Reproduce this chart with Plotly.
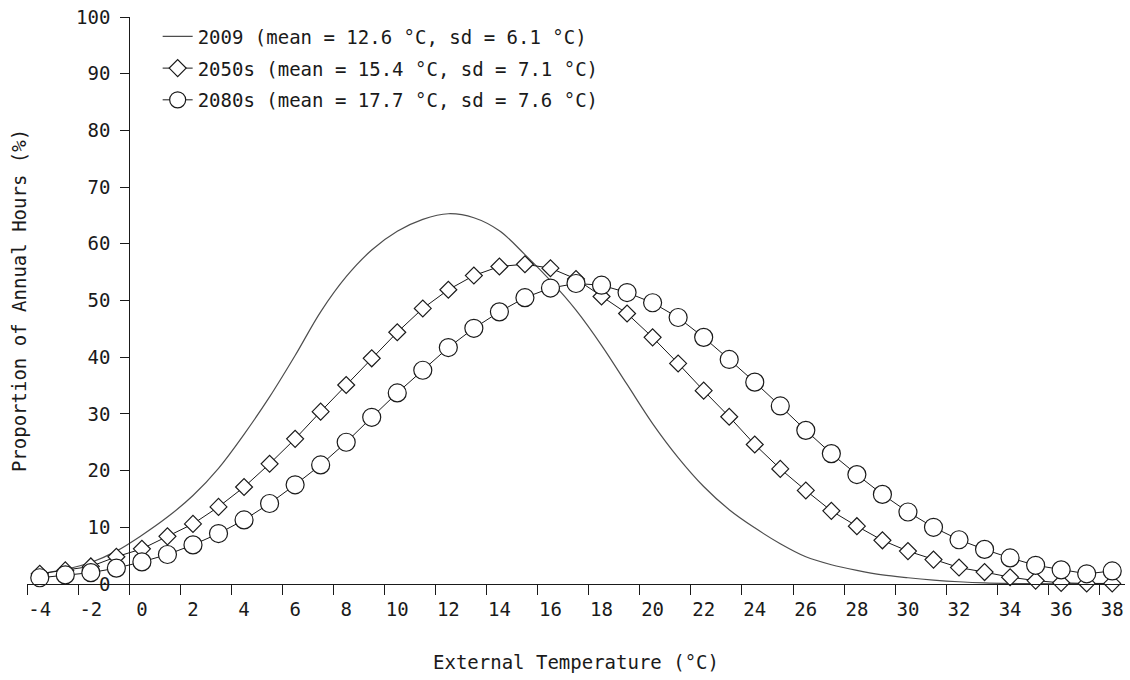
import plotly.graph_objects as go

# Outdoor temperature bins (°C)
temps = list(range(-4, 39))

# Share of annual hours per temperature bin (%)
hours_2009 = [1.8, 2.6, 3.8, 5.8, 8.6, 11.8, 15.6, 20.4, 26.4, 33.0, 40.3, 48.0, 54.2,
              58.9, 62.2, 64.3, 65.3, 64.6, 62.3, 58.1, 53.5, 48.3, 42.1, 35.2, 28.3,
              22.3, 17.2, 13.1, 9.9, 7.1, 4.8, 3.4, 2.4, 1.6, 1.1, 0.7, 0.4, 0.2, 0.1,
              0.05, 0.02, 0.0, 0.0]
hours_2050s = [1.8, 2.4, 3.1, 4.8, 6.2, 8.4, 10.6, 13.6, 17.1, 21.2, 25.6, 30.4, 35.1,
               39.8, 44.4, 48.6, 51.9, 54.4, 56.0, 56.4, 55.7, 53.8, 50.7, 47.7, 43.5,
               38.9, 34.1, 29.5, 24.6, 20.3, 16.5, 12.9, 10.2, 7.7, 5.8, 4.3, 2.9, 2.1,
               1.2, 0.6, 0.2, 0.1, 0.1]
hours_2080s = [1.1, 1.6, 2.0, 2.8, 3.9, 5.2, 6.9, 8.9, 11.3, 14.2, 17.5, 21.0, 25.0,
               29.4, 33.7, 37.7, 41.7, 45.1, 48.0, 50.5, 52.2, 53.0, 52.7, 51.4, 49.6,
               47.0, 43.5, 39.6, 35.6, 31.4, 27.1, 23.0, 19.3, 15.8, 12.7, 10.0, 7.8,
               6.1, 4.6, 3.3, 2.5, 1.8, 2.3]

series_names = [
    "2009 (mean = 12.6 °C, sd = 6.1 °C)",
    "2050s (mean = 15.4 °C, sd = 7.1 °C)",
    "2080s (mean = 17.7 °C, sd = 7.6 °C)",
]

# Axis ticks: labels on every second bin, tick marks between bins
x_label_vals = list(range(-4, 39, 2))
x_tick_marks = [v - 0.5 for v in x_label_vals]
y_tick_vals = list(range(0, 101, 10))

FONT = "DejaVu Sans Mono"
INK = "#1a1a1a"

fig = go.Figure()

fig.add_trace(go.Scatter(
    x=temps, y=hours_2009, name=series_names[0], mode="lines",
    legendgroup="a",
    line=dict(color="#4d4d4d", width=1.2, shape="spline", smoothing=1.0),
    cliponaxis=False,
))
fig.add_trace(go.Scatter(
    x=temps, y=hours_2050s, name=series_names[1], mode="lines+markers",
    legendgroup="b",
    line=dict(color=INK, width=1),
    marker=dict(symbol="diamond", size=13, color="white",
                line=dict(color=INK, width=1.2)),
    cliponaxis=False,
))
fig.add_trace(go.Scatter(
    x=temps, y=hours_2080s, name=series_names[2], mode="lines+markers",
    legendgroup="c",
    line=dict(color=INK, width=1),
    marker=dict(symbol="circle", size=18, color="white",
                line=dict(color=INK, width=1.2)),
    cliponaxis=False,
))

fig.update_layout(
    width=1130, height=680,
    margin=dict(l=27, r=5, t=17, b=96),
    paper_bgcolor="white", plot_bgcolor="white",
    font=dict(family=FONT, size=19, color=INK),
    showlegend=True,
    legend=dict(
        x=0.119, y=0.999, xanchor="left", yanchor="top",
        bgcolor="rgba(255,255,255,0)", borderwidth=0,
        font=dict(family=FONT, size=19, color=INK),
        traceorder="grouped", tracegroupgap=4,
    ),
    xaxis=dict(
        range=[-4.5, 38.5], showgrid=False, zeroline=False,
        showline=True, linecolor=INK, linewidth=1,
        tickmode="array", tickvals=x_label_vals,
        ticktext=[str(v) for v in x_label_vals],
        ticks="outside", ticklen=8, tickcolor="rgba(0,0,0,0)",
        minor=dict(tickmode="array", tickvals=x_tick_marks, ticks="outside",
                   ticklen=10, tickwidth=1, tickcolor=INK),
        title=dict(text="External Temperature (°C)", standoff=36,
                   font=dict(family=FONT, size=19)),
        anchor="y",
    ),
    yaxis=dict(
        range=[0, 100], showgrid=False, zeroline=False,
        showline=True, linecolor=INK, linewidth=1,
        tickmode="array", tickvals=y_tick_vals,
        ticks="outside", ticklen=9, tickwidth=1, tickcolor=INK,
        ticklabelstandoff=6,
        anchor="free", position=4 / 43,
        title=dict(text="Proportion of Annual Hours (%)", standoff=43,
                   font=dict(family=FONT, size=19)),
    ),
)

fig.write_html("out.html")
